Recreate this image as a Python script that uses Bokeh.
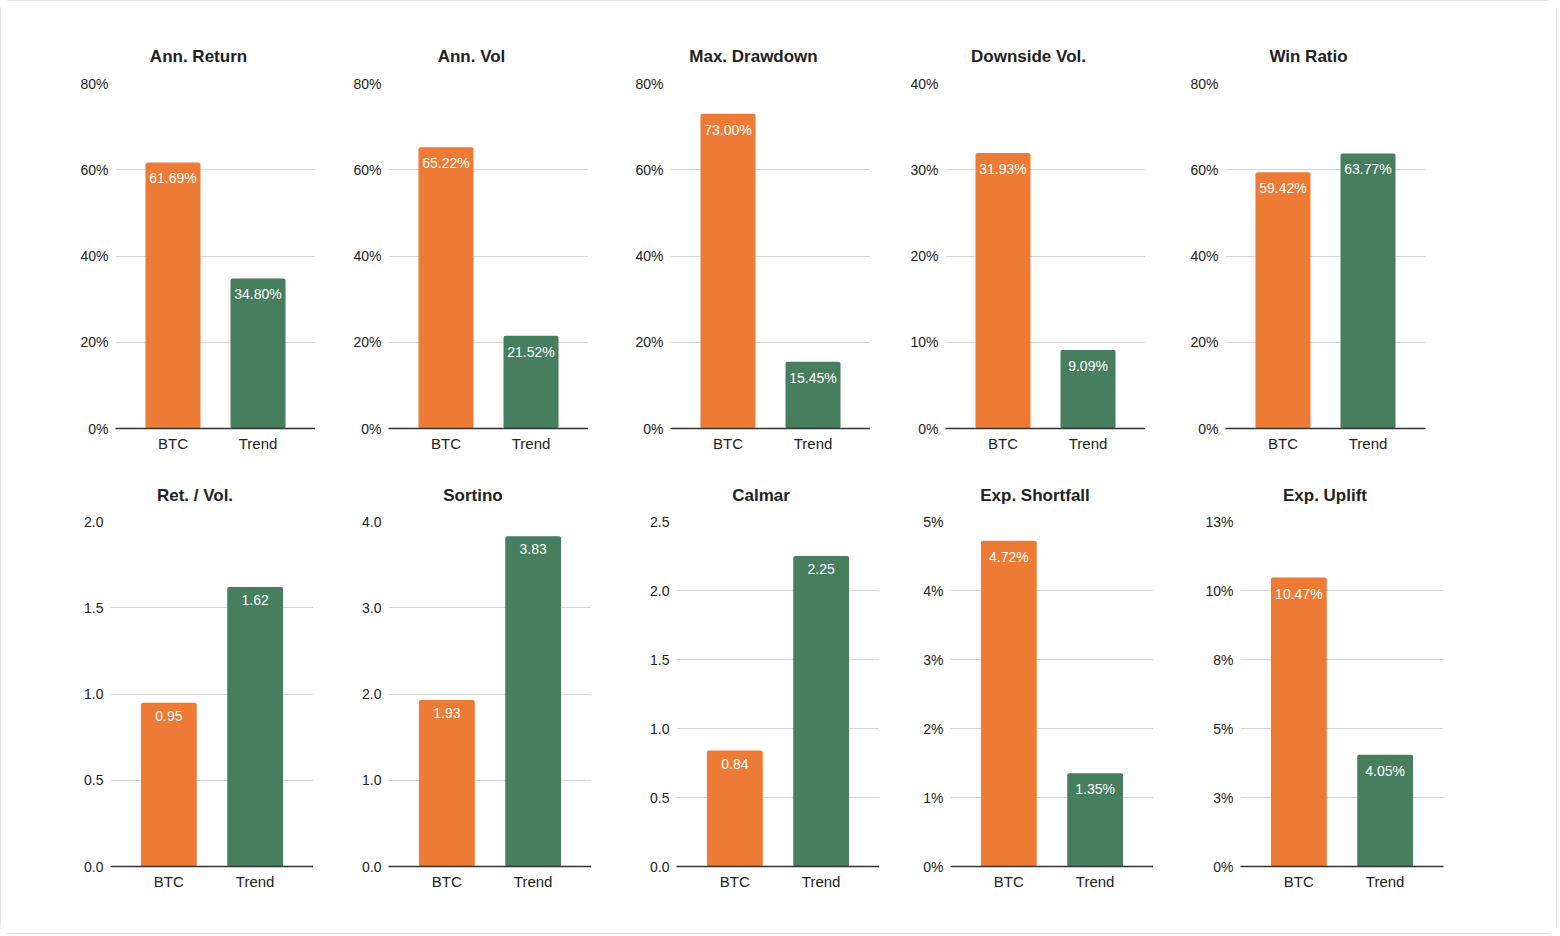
from bokeh.plotting import figure
from bokeh.models import ColumnDataSource, FactorRange, Range1d, FixedTicker
from bokeh.layouts import row, column
from bokeh.core.properties import value
from bokeh.embed import file_html
from bokeh.resources import INLINE

# Data
categories = ["BTC", "Trend"]
titles = ["Ann. Return", "Ann. Vol", "Max. Drawdown", "Downside Vol.", "Win Ratio",
          "Ret. / Vol.", "Sortino", "Calmar", "Exp. Shortfall", "Exp. Uplift"]
btc_values = [61.69, 65.22, 73.00, 31.93, 59.42, 0.95, 1.93, 0.84, 4.72, 10.47]
trend_values = [34.80, 21.52, 15.45, 9.09, 63.77, 1.62, 3.83, 2.25, 1.35, 4.05]
y_max = [80, 80, 80, 40, 80, 2.0, 4.0, 2.5, 5, 12.5]
y_step = [20, 20, 20, 10, 20, 0.5, 1.0, 0.5, 1, 2.5]
is_pct = [True, True, True, True, True, False, False, False, True, True]

# Style
ORANGE = "#ED7A35"
GREEN = "#467E5E"
FONT = "Liberation Sans"

# frame left margins per chart, frame widths, top/bottom borders per row
lefts = [114, 73, 82, 75, 80, 109, 75, 85, 71, 87]
frame_w = [200] * 5 + [203] * 5
rights = [0, 0, 0, 0, 131, 0, 0, 0, 0, 113]
tops = [82] * 5 + [52] * 5
bottoms = [41] * 5 + [67] * 5
title_gap = [27] * 5 + [25] * 5


def make_chart(i):
    p = figure(x_range=FactorRange(factors=categories, range_padding=0.176,
                                   range_padding_units="absolute"),
               y_range=Range1d(0, y_max[i]),
               frame_width=frame_w[i], frame_height=345,
               min_border_left=lefts[i], min_border_right=rights[i],
               min_border_top=tops[i], min_border_bottom=bottoms[i],
               title=titles[i], output_backend="svg", toolbar_location=None)

    if is_pct[i]:
        labels = ["%.2f%%" % v for v in (btc_values[i], trend_values[i])]
    else:
        labels = ["%.2f" % v for v in (btc_values[i], trend_values[i])]
    src = ColumnDataSource(data=dict(cat=categories,
                                     val=[btc_values[i], trend_values[i]],
                                     color=[ORANGE, GREEN],
                                     label=labels))

    p.vbar(x="cat", top="val", width=0.647, source=src, fill_color="color",
           line_color=None, border_radius=2)
    p.text(x="cat", y="val", text="label", source=src, text_align="center",
           text_baseline="top", y_offset=8, text_color="white",
           text_font=value(FONT), text_font_size="14px")

    # y ticks
    ticks = []
    t = 0.0
    while t <= y_max[i] + 1e-9:
        ticks.append(round(t, 4))
        t += y_step[i]
    if is_pct[i]:
        overrides = {tk: "%d%%" % int(tk + 0.5) for tk in ticks}
    else:
        overrides = {tk: "%.1f" % tk for tk in ticks}
    p.yaxis.ticker = FixedTicker(ticks=ticks)
    p.ygrid.ticker = FixedTicker(ticks=ticks)
    p.yaxis.major_label_overrides = overrides

    p.title.align = "center"
    p.title.standoff = title_gap[i]
    # extra right padding nudges the centred title a little to the left
    p.title.padding = dict(left=0, right=34, top=0, bottom=4)
    p.title.text_font = FONT
    p.title.text_font_size = "17px"
    p.title.text_font_style = "bold"
    p.title.text_color = "#222222"

    p.yaxis.axis_line_color = None
    p.yaxis.major_tick_line_color = None
    p.yaxis.major_tick_out = 0
    p.yaxis.minor_tick_line_color = None
    p.yaxis.major_label_standoff = 7
    p.yaxis.major_label_text_font = FONT
    p.yaxis.major_label_text_font_size = "14px"
    p.yaxis.major_label_text_color = "#222222"

    p.xaxis.axis_line_color = "#333333"
    p.xaxis.axis_line_width = 1.3
    p.xaxis.major_tick_line_color = None
    p.xaxis.major_tick_out = 0
    p.xaxis.major_label_standoff = 6
    p.xaxis.major_label_text_font = FONT
    p.xaxis.major_label_text_font_size = "15px"
    p.xaxis.major_label_text_color = "#222222"

    p.xgrid.grid_line_color = None
    p.ygrid.grid_line_color = "#d6d6d6"
    p.outline_line_color = None
    p.background_fill_color = "white"
    p.border_fill_color = "white"
    return p


charts = [make_chart(i) for i in range(10)]
layout = column(row(*charts[:5]), row(*charts[5:]),
                styles={"border": "1px solid #e3e3e3", "border-radius": "10px"})

open("out.html", "w").write(file_html(layout, INLINE))
